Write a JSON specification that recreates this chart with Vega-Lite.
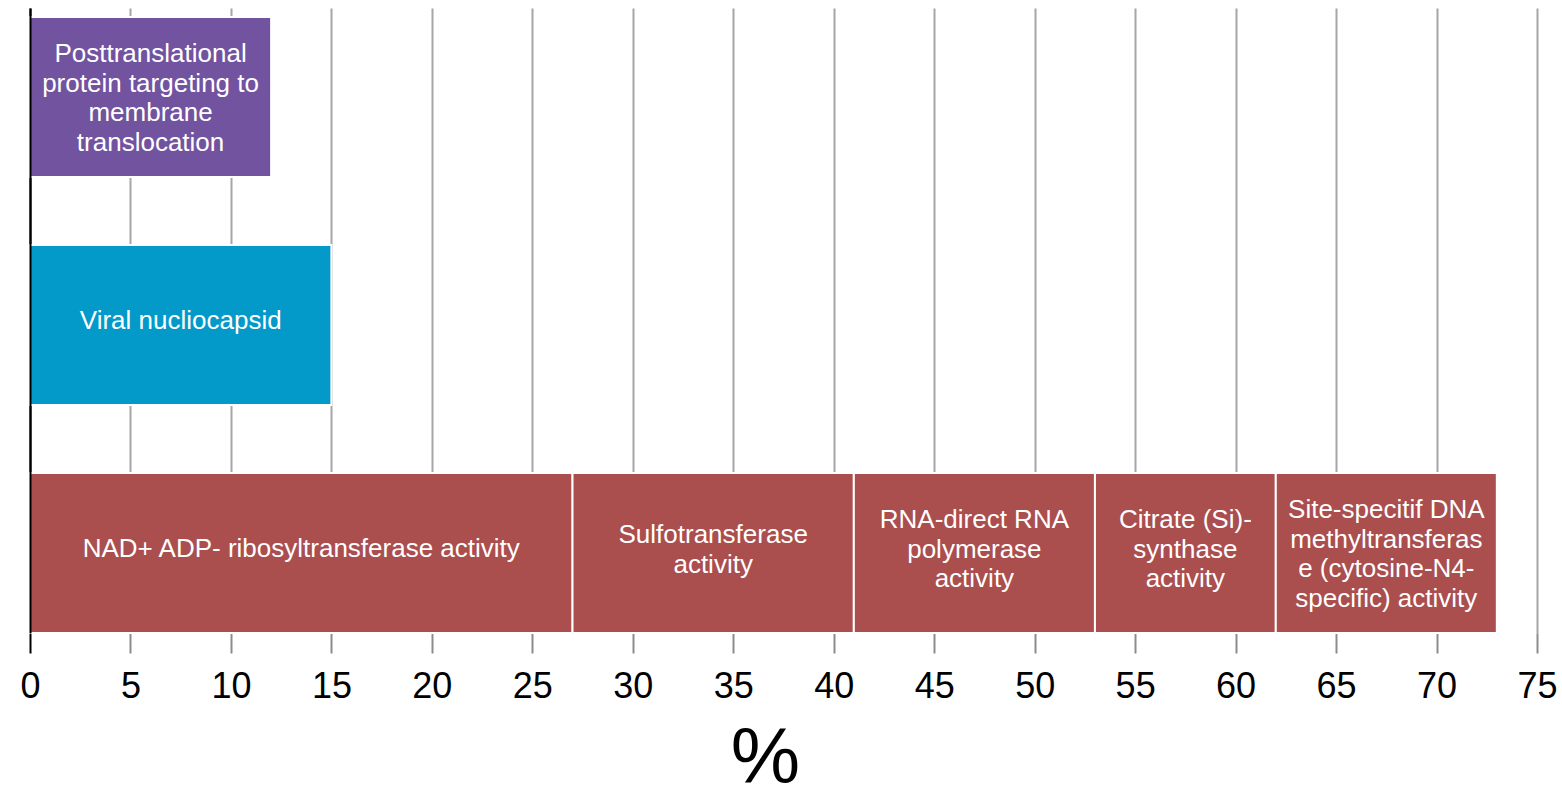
{
  "$schema": "https://vega.github.io/schema/vega-lite/v6.json",
  "width": 1507,
  "height": 625,
  "autosize": "none",
  "padding": {"left": 30, "top": 8, "right": 25, "bottom": 156},
  "background": "white",
  "config": {"view": {"stroke": null}, "font": "Liberation Sans"},
  "data": {
    "values": [
      {"row": "1", "group": "Posttranslational", "start": 0, "end": 12, "label": "Posttranslational\nprotein targeting to\nmembrane\ntranslocation"},
      {"row": "2", "group": "Viral", "start": 0, "end": 15, "label": "Viral nucliocapsid"},
      {"row": "3", "group": "Activity", "start": 0, "end": 27, "label": "NAD+ ADP- ribosyltransferase activity"},
      {"row": "3", "group": "Activity", "start": 27, "end": 41, "label": "Sulfotransferase\nactivity"},
      {"row": "3", "group": "Activity", "start": 41, "end": 53, "label": "RNA-direct RNA\npolymerase\nactivity"},
      {"row": "3", "group": "Activity", "start": 53, "end": 62, "label": "Citrate (Si)-\nsynthase\nactivity"},
      {"row": "3", "group": "Activity", "start": 62, "end": 73, "label": "Site-specitif DNA\nmethyltransferas\ne (cytosine-N4-\nspecific) activity"}
    ]
  },
  "encoding": {
    "y": {
      "field": "row",
      "type": "nominal",
      "sort": null,
      "scale": {"domain": ["1", "2", "3"], "paddingInner": 0.298, "paddingOuter": 0.0197, "align": 1},
      "axis": {"title": null, "labels": false, "ticks": false, "domain": true, "domainColor": "black", "domainWidth": 2, "grid": false, "zindex": 1}
    }
  },
  "layer": [
    {
      "mark": {"type": "bar", "stroke": "white", "strokeWidth": 2},
      "encoding": {
        "x": {
          "field": "start",
          "type": "quantitative",
          "scale": {"domain": [0, 75], "nice": false},
          "axis": {
            "values": [0, 5, 10, 15, 20, 25, 30, 35, 40, 45, 50, 55, 60, 65, 70, 75],
            "grid": true,
            "gridColor": {"condition": {"test": "datum.value === 0", "value": "black"}, "value": "#a6a6a6"},
            "gridWidth": 2,
            "domain": false,
            "tickSize": 20,
            "tickWidth": 2,
            "tickColor": {"condition": {"test": "datum.value === 0", "value": "black"}, "value": "#8c8c8c"},
            "labelFontSize": 36,
            "labelColor": "black",
            "labelPadding": 44,
            "labelBaseline": "alphabetic",
            "labelFlush": false,
            "title": "%",
            "titleFontSize": 78,
            "titleFontWeight": "normal",
            "titleColor": "black",
            "titleBaseline": "alphabetic",
            "titleAlign": "center",
            "titleX": 735,
            "titleY": 149
          }
        },
        "x2": {"field": "end"},
        "color": {
          "field": "group",
          "type": "nominal",
          "scale": {"domain": ["Posttranslational", "Viral", "Activity"], "range": ["#7153a0", "#0399c9", "#aa4e4e"]},
          "legend": null
        }
      }
    },
    {
      "transform": [
        {"filter": "split(datum.label, '\\n').length == 1"},
        {"calculate": "(datum.start + datum.end) / 2", "as": "mid"}
      ],
      "mark": {"type": "text", "color": "white", "fontSize": 26, "lineHeight": 29.7, "lineBreak": "\n", "baseline": "middle", "align": "center", "dy": -4},
      "encoding": {"x": {"field": "mid", "type": "quantitative"}, "text": {"field": "label"}}
    },
    {
      "transform": [
        {"filter": "split(datum.label, '\\n').length == 2"},
        {"calculate": "(datum.start + datum.end) / 2", "as": "mid"}
      ],
      "mark": {"type": "text", "color": "white", "fontSize": 26, "lineHeight": 29.7, "lineBreak": "\n", "baseline": "middle", "align": "center", "dy": -18},
      "encoding": {"x": {"field": "mid", "type": "quantitative"}, "text": {"field": "label"}}
    },
    {
      "transform": [
        {"filter": "split(datum.label, '\\n').length == 3"},
        {"calculate": "(datum.start + datum.end) / 2", "as": "mid"}
      ],
      "mark": {"type": "text", "color": "white", "fontSize": 26, "lineHeight": 29.7, "lineBreak": "\n", "baseline": "middle", "align": "center", "dy": -33},
      "encoding": {"x": {"field": "mid", "type": "quantitative"}, "text": {"field": "label"}}
    },
    {
      "transform": [
        {"filter": "split(datum.label, '\\n').length == 4"},
        {"calculate": "(datum.start + datum.end) / 2", "as": "mid"}
      ],
      "mark": {"type": "text", "color": "white", "fontSize": 26, "lineHeight": 29.7, "lineBreak": "\n", "baseline": "middle", "align": "center", "dy": -43},
      "encoding": {"x": {"field": "mid", "type": "quantitative"}, "text": {"field": "label"}}
    }
  ]
}
